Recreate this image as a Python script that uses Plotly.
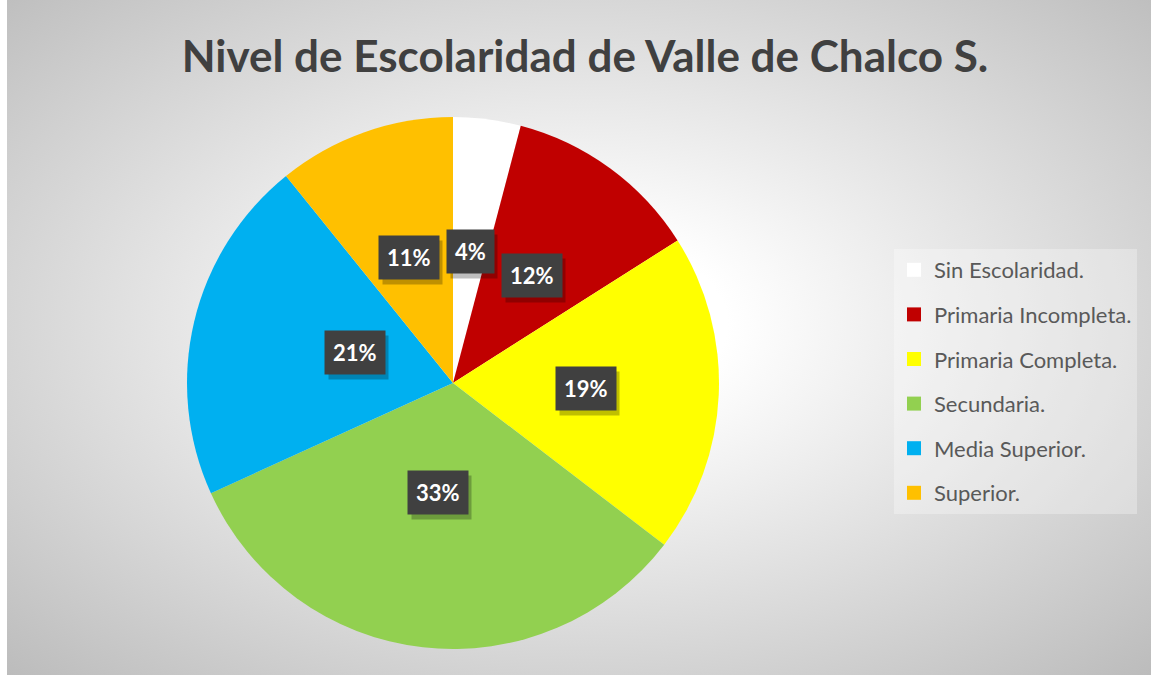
import math
import base64
import plotly.graph_objects as go

# ---- data ----
categories = ["Sin Escolaridad.", "Primaria Incompleta.", "Primaria Completa.",
              "Secundaria.", "Media Superior.", "Superior."]
values = [4.1, 11.9, 19.4, 32.8, 21.0, 10.8]
colors = ["#FFFFFF", "#C00000", "#FFFF00", "#92D050", "#00B0F0", "#FFC000"]
title_text = "Nivel de Escolaridad de Valle de Chalco S."

W, H = 1151, 675
CX, CY, R = 453, 383, 266  # pie centre / radius in pixels

# ---- background (radial gradient like Excel) ----
svg = f"""<svg xmlns='http://www.w3.org/2000/svg' width='1144' height='675' viewBox='0 0 1144 675' preserveAspectRatio='none'>
<defs><radialGradient id='g' cx='0.5' cy='0.48' r='0.72'>
<stop offset='0' stop-color='#ffffff'/>
<stop offset='0.18' stop-color='#ffffff'/>
<stop offset='1' stop-color='#bcbcbc'/>
</radialGradient></defs>
<rect x='0' y='0' width='1144' height='675' fill='url(#g)'/>
</svg>"""
bg_src = "data:image/svg+xml;base64," + base64.b64encode(svg.encode()).decode()

fig = go.Figure()

fig.add_trace(go.Pie(
    labels=categories, values=values, sort=False, direction="clockwise", rotation=0,
    marker=dict(colors=colors, line=dict(width=0)),
    textinfo="none", hoverinfo="label+percent", showlegend=False,
    domain=dict(x=[(CX - R) / W, (CX + R) / W],
                y=[(H - CY - R) / H, (H - CY + R) / H]),
))

# legend entries (one group each for spacing)
for name, col in zip(categories, colors):
    fig.add_trace(go.Scatter(
        x=[None], y=[None], mode="markers", name=name, legendgroup=name,
        marker=dict(symbol="square", size=14, color=col, line=dict(width=0)),
        hoverinfo="skip",
    ))

# data labels, placed at half radius along each slice's mid angle
total = sum(values)
cum = 0.0
annotations = []
for v in values:
    mid = (cum + v / 2) / total * 2 * math.pi
    cum += v
    px = CX + 0.5 * R * math.sin(mid)
    py = CY - 0.5 * R * math.cos(mid)
    xp, yp = px / W, (H - py) / H
    label = f"{round(v / total * 100)}%"
    ndig = len(label) - 1
    shadow_w = 12.8 * ndig + 17.6
    annotations.append(dict(
        x=xp, y=yp, xref="paper", yref="paper", text=" ", showarrow=False,
        width=shadow_w, height=27, borderpad=8, bgcolor="rgba(0,0,0,0.25)",
        xshift=4, yshift=-5,
    ))
    annotations.append(dict(
        x=xp, y=yp, xref="paper", yref="paper", text=f"<b>{label}</b>", showarrow=False,
        borderpad=8, bgcolor="#404040",
        font=dict(family="Lato", size=22, color="#FFFFFF"),
    ))

fig.update_layout(
    width=W, height=H,
    margin=dict(l=0, r=0, t=0, b=0),
    paper_bgcolor="#FFFFFF", plot_bgcolor="rgba(0,0,0,0)",
    xaxis=dict(visible=False, domain=[0.99, 1]), yaxis=dict(visible=False, domain=[0.99, 1]),
    title=dict(text=f"<b>{title_text}</b>", x=585 / W, xanchor="center",
               y=(H - 57) / H, yanchor="middle", yref="paper",
               font=dict(family="Lato", size=44, color="#404040")),
    legend=dict(x=894 / W, y=(H - 249) / H, xanchor="left", yanchor="top",
                bgcolor="rgba(255,255,255,0.30)", tracegroupgap=13,
                font=dict(family="Lato", size=22, color="#595959"),
                traceorder="grouped", itemwidth=30),
    annotations=annotations,
    images=[dict(source=bg_src, xref="paper", yref="paper", x=7 / W, y=1,
                 sizex=(W - 7) / W, sizey=1, sizing="stretch", layer="below",
                 xanchor="left", yanchor="top")],
)

fig.write_html("out.html", config={"displayModeBar": False},
               post_script="document.body.style.margin='0';document.body.style.overflow='hidden';")
